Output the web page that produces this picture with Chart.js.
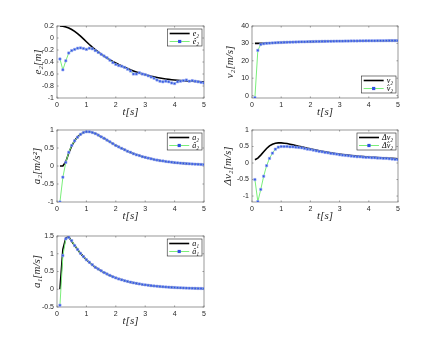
<!DOCTYPE html>
<html>
<head>
<meta charset="utf-8">
<script src="https://cdn.jsdelivr.net/npm/chart.js@4.4.1/dist/chart.umd.min.js"></script>
<style>
  body { margin: 0; background: #fff; }
  #fig { position: relative; width: 440px; height: 349px; overflow: hidden; }
  #fig canvas { position: absolute; }
</style>
</head>
<body>
<div id="fig"></div>
<script>
const TIME = [0.1, 0.2, 0.3, 0.4, 0.5, 0.6, 0.7, 0.8, 0.9, 1.0,
  1.1, 1.2, 1.3, 1.4, 1.5, 1.6, 1.7, 1.8, 1.9, 2.0,
  2.1, 2.2, 2.3, 2.4, 2.5, 2.6, 2.7, 2.8, 2.9, 3.0,
  3.1, 3.2, 3.3, 3.4, 3.5, 3.6, 3.7, 3.8, 3.9, 4.0,
  4.1, 4.2, 4.3, 4.4, 4.5, 4.6, 4.7, 4.8, 4.9, 5.0];

// e2 (reference) and its estimate
const E2 = [0.200, 0.196, 0.185, 0.167, 0.142, 0.110, 0.072, 0.030, -0.015, -0.062,
  -0.108, -0.152, -0.193, -0.232, -0.268, -0.302, -0.334, -0.364, -0.392, -0.418,
  -0.443, -0.466, -0.488, -0.509, -0.529, -0.548, -0.566, -0.583, -0.598, -0.612,
  -0.625, -0.637, -0.648, -0.658, -0.667, -0.675, -0.682, -0.689, -0.695, -0.700,
  -0.705, -0.709, -0.713, -0.716, -0.719, -0.722, -0.724, -0.726, -0.728, -0.730];
const E2_HAT = [-0.35, -0.53, -0.38, -0.25, -0.21, -0.19, -0.17, -0.165, -0.175, -0.19,
  -0.17, -0.18, -0.21, -0.24, -0.27, -0.30, -0.33, -0.37, -0.41, -0.44,
  -0.46, -0.47, -0.49, -0.52, -0.55, -0.60, -0.60, -0.58, -0.60, -0.61,
  -0.63, -0.65, -0.67, -0.70, -0.72, -0.73, -0.72, -0.73, -0.75, -0.76,
  -0.73, -0.72, -0.71, -0.70, -0.72, -0.71, -0.72, -0.73, -0.74, -0.75];

// v2
const V2 = [30.00, 30.02, 30.06, 30.12, 30.19, 30.26, 30.33, 30.40, 30.47, 30.53,
  30.59, 30.65, 30.70, 30.75, 30.80, 30.85, 30.89, 30.93, 30.97, 31.01,
  31.04, 31.08, 31.11, 31.14, 31.17, 31.19, 31.22, 31.24, 31.27, 31.29,
  31.31, 31.33, 31.35, 31.37, 31.39, 31.41, 31.43, 31.44, 31.46, 31.48,
  31.49, 31.51, 31.52, 31.54, 31.55, 31.56, 31.58, 31.59, 31.60, 31.61];
const V2_HAT = [-1.2, 26.0, 29.4, 29.8, 30.0, 30.15, 30.25, 30.35, 30.45, 30.5,
  30.6, 30.65, 30.7, 30.75, 30.8, 30.85, 30.9, 30.9, 31.0, 31.0,
  31.05, 31.1, 31.1, 31.15, 31.2, 31.2, 31.2, 31.25, 31.3, 31.3,
  31.3, 31.35, 31.35, 31.4, 31.4, 31.4, 31.45, 31.45, 31.5, 31.5,
  31.5, 31.5, 31.55, 31.55, 31.55, 31.6, 31.6, 31.6, 31.6, 31.6];

// a2
const A2 = [0, 0, 0.12, 0.36, 0.56, 0.70, 0.81, 0.88, 0.93, 0.95,
  0.95, 0.93, 0.90, 0.86, 0.81, 0.77, 0.72, 0.67, 0.62, 0.57,
  0.53, 0.49, 0.45, 0.41, 0.38, 0.34, 0.31, 0.29, 0.26, 0.24,
  0.22, 0.20, 0.18, 0.165, 0.15, 0.14, 0.125, 0.115, 0.105, 0.095,
  0.087, 0.080, 0.073, 0.067, 0.061, 0.056, 0.051, 0.047, 0.043, 0.040];
const A2_HAT = [-1.0, -0.31, 0.10, 0.38, 0.57, 0.70, 0.80, 0.88, 0.93, 0.95,
  0.95, 0.93, 0.90, 0.86, 0.81, 0.77, 0.72, 0.67, 0.62, 0.57,
  0.53, 0.49, 0.45, 0.41, 0.38, 0.34, 0.31, 0.29, 0.26, 0.24,
  0.22, 0.20, 0.18, 0.165, 0.15, 0.14, 0.125, 0.115, 0.105, 0.095,
  0.087, 0.080, 0.073, 0.067, 0.061, 0.056, 0.051, 0.047, 0.043, 0.040];

// delta v2
const DV2 = [0.10, 0.15, 0.24, 0.34, 0.44, 0.52, 0.57, 0.60, 0.61, 0.61,
  0.60, 0.59, 0.57, 0.55, 0.53, 0.51, 0.49, 0.47, 0.45, 0.43,
  0.41, 0.39, 0.37, 0.355, 0.34, 0.325, 0.31, 0.295, 0.28, 0.27,
  0.26, 0.25, 0.24, 0.23, 0.22, 0.21, 0.20, 0.195, 0.19, 0.18,
  0.175, 0.17, 0.165, 0.16, 0.155, 0.15, 0.145, 0.14, 0.135, 0.13];
const DV2_HAT = [-0.50, -1.17, -0.80, -0.40, -0.08, 0.14, 0.30, 0.42, 0.48, 0.50,
  0.50, 0.50, 0.49, 0.49, 0.48, 0.47, 0.46, 0.44, 0.42, 0.41,
  0.39, 0.37, 0.35, 0.34, 0.32, 0.31, 0.29, 0.28, 0.27, 0.25,
  0.24, 0.23, 0.22, 0.21, 0.20, 0.19, 0.19, 0.18, 0.17, 0.17,
  0.16, 0.16, 0.15, 0.15, 0.14, 0.14, 0.13, 0.12, 0.11, 0.10];

// a1
const A1 = [0, 1.12, 1.44, 1.48, 1.35, 1.23, 1.12, 1.01, 0.92, 0.83,
  0.76, 0.69, 0.62, 0.57, 0.52, 0.47, 0.43, 0.39, 0.35, 0.32,
  0.29, 0.265, 0.24, 0.22, 0.20, 0.18, 0.165, 0.15, 0.135, 0.123,
  0.112, 0.102, 0.093, 0.085, 0.077, 0.070, 0.064, 0.058, 0.053, 0.048,
  0.044, 0.040, 0.036, 0.033, 0.030, 0.027, 0.025, 0.023, 0.021, 0.019];
const A1_HAT = [-0.45, 0.95, 1.42, 1.46, 1.37, 1.23, 1.12, 1.01, 0.92, 0.83,
  0.76, 0.69, 0.62, 0.57, 0.52, 0.47, 0.43, 0.39, 0.35, 0.32,
  0.29, 0.265, 0.24, 0.22, 0.20, 0.18, 0.165, 0.15, 0.135, 0.123,
  0.112, 0.102, 0.093, 0.085, 0.077, 0.070, 0.064, 0.058, 0.053, 0.048,
  0.044, 0.040, 0.036, 0.033, 0.030, 0.027, 0.025, 0.023, 0.021, 0.019];

const X_TICKS = [0, 1, 2, 3, 4, 5];
const E2_TICKS = [-1, -0.8, -0.6, -0.4, -0.2, 0, 0.2];
const V2_TICKS = [0, 10, 20, 30, 40];
const A2_TICKS = [-1, -0.5, 0, 0.5, 1];
const DV2_TICKS = [-1, -0.5, 0, 0.5, 1];
const A1_TICKS = [-0.5, 0, 0.5, 1, 1.5];

const PANELS = [
  { canvas: [0, 0, 215, 120], area: [57, 26, 204, 98], yRange: [-1, 0.2], yTicks: E2_TICKS,
    yTitle: 'e₂[m]', yTitleX: 38, ref: E2, est: E2_HAT, names: ['e₂', 'ê₂'], corner: 'top' },
  { canvas: [215, 0, 225, 120], area: [252, 26, 398, 98], yRange: [-1.4, 40], yTicks: V2_TICKS,
    yTitle: 'v₂[m/s]', yTitleX: 230, ref: V2, est: V2_HAT, names: ['v₂', 'v̂₂'], corner: 'bottom' },
  { canvas: [0, 120, 215, 104], area: [57, 130, 204, 202], yRange: [-1, 1], yTicks: A2_TICKS,
    yTitle: 'a₂[m/s²]', yTitleX: 37, ref: A2, est: A2_HAT, names: ['a₂', 'â₂'], corner: 'top' },
  { canvas: [215, 120, 225, 104], area: [252, 130, 398, 202], yRange: [-1.18, 1], yTicks: DV2_TICKS,
    yTitle: 'Δv₂[m/s]', yTitleX: 228, ref: DV2, est: DV2_HAT, names: ['Δv₂', 'Δv̂₂'], corner: 'top' },
  { canvas: [0, 224, 215, 105], area: [57, 236, 204, 307], yRange: [-0.5, 1.5], yTicks: A1_TICKS,
    yTitle: 'a₁[m/s]', yTitleX: 37, ref: A1, est: A1_HAT, names: ['a₁', 'â₁'], corner: 'top' },
];

const TICK_FONT = { family: '"Liberation Sans", Arial, sans-serif', size: 7 };
const TITLE_FONT = { family: '"Liberation Serif", "DejaVu Serif", serif', size: 11, style: 'italic', lineHeight: 1.2 };
const AXIS_COLOR = '#7f7f7f';
const TEXT_COLOR = '#262626';

const framePlugin = {
  id: 'frame',
  beforeDatasetsDraw(chart) {
    const { ctx, chartArea: a, scales: { x, y } } = chart;
    ctx.save();
    ctx.strokeStyle = AXIS_COLOR;
    ctx.lineWidth = 0.8;
    ctx.strokeRect(a.left, a.top, a.right - a.left, a.bottom - a.top);
    ctx.beginPath();
    x.ticks.forEach((t) => {
      const px = x.getPixelForValue(t.value);
      ctx.moveTo(px, a.bottom); ctx.lineTo(px, a.bottom - 1.5);
      ctx.moveTo(px, a.top); ctx.lineTo(px, a.top + 1.5);
    });
    y.ticks.forEach((t) => {
      const py = y.getPixelForValue(t.value);
      ctx.moveTo(a.left, py); ctx.lineTo(a.left + 1.5, py);
      ctx.moveTo(a.right, py); ctx.lineTo(a.right - 1.5, py);
    });
    ctx.stroke();
    ctx.restore();
  },
};

const boxLegendPlugin = {
  id: 'boxLegend',
  afterDraw(chart, args, opts) {
    const { ctx, chartArea: a } = chart;
    const sets = chart.data.datasets;
    ctx.save();
    ctx.font = 'italic 8px "Liberation Serif", serif';
    const textW = Math.max(...sets.map((d) => ctx.measureText(d.label).width));
    const w = 2 + 20 + 3 + textW + 3;
    const h = 17;
    const left = a.right - 2 - w;
    const top = opts.corner === 'bottom' ? a.bottom - 5 - h : a.top + 3;
    ctx.fillStyle = '#fff';
    ctx.fillRect(left, top, w, h);
    ctx.strokeStyle = '#262626';
    ctx.lineWidth = 0.6;
    ctx.strokeRect(left, top, w, h);
    sets.forEach((d, i) => {
      const yy = top + 4.5 + i * 8;
      ctx.strokeStyle = d.borderColor;
      ctx.lineWidth = d.borderWidth;
      ctx.beginPath();
      ctx.moveTo(left + 2, yy);
      ctx.lineTo(left + 22, yy);
      ctx.stroke();
      if (d.pointRadius) {
        ctx.fillStyle = d.pointBackgroundColor;
        ctx.fillRect(left + 12 - d.pointRadius, yy - d.pointRadius, d.pointRadius * 2, d.pointRadius * 2);
      }
      ctx.fillStyle = '#000';
      ctx.textBaseline = 'middle';
      ctx.fillText(d.label, left + 25, yy);
    });
    ctx.restore();
  },
};

function toPoints(values) {
  return TIME.map((t, i) => ({ x: t, y: values[i] }));
}

function fixedTicks(list) {
  return (scale) => { scale.ticks = list.map((v) => ({ value: v })); };
}

function makePanel(p) {
  const [cl, ct, cw, ch] = p.canvas;
  const [L, T, R, B] = p.area;
  const canvas = document.createElement('canvas');
  canvas.width = cw;
  canvas.height = ch;
  canvas.style.left = cl + 'px';
  canvas.style.top = ct + 'px';
  document.getElementById('fig').appendChild(canvas);

  new Chart(canvas, {
    type: 'line',
    data: {
      datasets: [
        {
          label: p.names[0],
          data: toPoints(p.ref),
          borderColor: '#000000',
          borderWidth: 1.6,
          pointRadius: 0,
          tension: 0,
          order: 1,
        },
        {
          label: p.names[1],
          data: toPoints(p.est),
          borderColor: '#7aee7a',
          borderWidth: 1,
          pointStyle: 'rect',
          pointRadius: 1.6,
          pointBackgroundColor: '#2f4fe3',
          pointBorderColor: '#90a4f4',
          pointBorderWidth: 0.6,
          tension: 0,
          order: 0,
        },
      ],
    },
    options: {
      responsive: false,
      animation: false,
      devicePixelRatio: 1,
      layout: { padding: { left: 0, top: T - ct, right: cl + cw - R, bottom: 0 } },
      plugins: {
        legend: { display: false },
        tooltip: { enabled: false },
        boxLegend: { corner: p.corner },
      },
      scales: {
        x: {
          type: 'linear',
          min: 0,
          max: 5,
          afterBuildTicks: fixedTicks(X_TICKS),
          afterFit: (s) => { s.height = ct + ch - B; },
          grid: { display: false, drawTicks: false, tickLength: 0 },
          border: { display: false },
          ticks: { font: TICK_FONT, color: TEXT_COLOR, padding: 3, maxRotation: 0, callback: (v) => String(v) },
          title: { display: true, text: 't[s]', font: TITLE_FONT, color: TEXT_COLOR, padding: { top: 0, bottom: 1 } },
        },
        y: {
          type: 'linear',
          min: p.yRange[0],
          max: p.yRange[1],
          afterBuildTicks: fixedTicks(p.yTicks),
          afterFit: (s) => { s.width = L - cl; },
          grid: { display: false, drawTicks: false, tickLength: 0 },
          border: { display: false },
          ticks: { font: TICK_FONT, color: TEXT_COLOR, padding: 3, callback: (v) => String(v) },
          title: { display: true, text: p.yTitle, font: TITLE_FONT, color: TEXT_COLOR,
            padding: { top: p.yTitleX - cl - 6.6, bottom: 0 } },
        },
      },
    },
    plugins: [framePlugin, boxLegendPlugin],
  });
}

PANELS.forEach(makePanel);
</script>
</body>
</html>
